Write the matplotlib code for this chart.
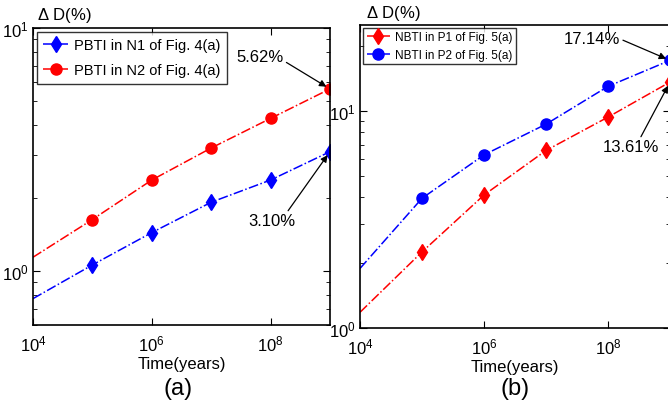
import numpy as np
import matplotlib
matplotlib.use("Agg")
import matplotlib.pyplot as plt
from matplotlib.ticker import LogLocator, NullFormatter

plt.rcParams['font.family'] = ['Liberation Sans', 'DejaVu Sans']
plt.rcParams['mathtext.fontset'] = 'custom'
plt.rcParams['mathtext.rm'] = 'Liberation Sans'

# data (first entry at 1e4 is the extrapolated line start, no marker)
time_years = [1e4, 1e5, 1e6, 1e7, 1e8, 1e9]

pbti_n1 = [0.77, 1.06, 1.44, 1.92, 2.37, 3.10]
pbti_n2 = [1.14, 1.63, 2.37, 3.21, 4.25, 5.62]

nbti_p1 = [1.18, 2.24, 4.10, 6.58, 9.38, 13.61]
nbti_p2 = [1.88, 3.96, 6.28, 8.70, 13.0, 17.14]

labels_a = ["PBTI in N1 of Fig. 4(a)", "PBTI in N2 of Fig. 4(a)"]
labels_b = ["NBTI in P1 of Fig. 5(a)", "NBTI in P2 of Fig. 5(a)"]

fig = plt.figure(figsize=(6.68, 4.10), dpi=100)
ax1 = fig.add_axes([0.0494, 0.205, 0.4446, 0.724])
ax2 = fig.add_axes([0.539, 0.198, 0.464, 0.739])


def style_axes(ax, ylim):
    ax.set_xscale("log")
    ax.set_yscale("log")
    ax.set_xlim(1e4, 1e9)
    ax.set_ylim(*ylim)
    ax.xaxis.set_major_locator(LogLocator(base=100))
    ax.xaxis.set_minor_locator(LogLocator(base=10, subs=[1.0], numticks=20))
    ax.xaxis.set_minor_formatter(NullFormatter())
    ax.tick_params(which="both", direction="in", top=True, right=True)
    ax.tick_params(which="major", length=5, labelsize=12)
    ax.tick_params(axis="x", which="major", pad=6)
    ax.tick_params(axis="y", which="major", pad=3)
    ax.tick_params(axis="x", which="minor", length=0)
    ax.tick_params(axis="y", which="minor", length=3)
    for s in ax.spines.values():
        s.set_linewidth(1.2)


def add_note(ax, text, xy, pix, relpos):
    ax.annotate(text, xy=xy, xytext=pix, textcoords="figure pixels",
                fontsize=12, ha="center", va="center",
                arrowprops=dict(arrowstyle="-|>", color="black", lw=0.9,
                                shrinkA=0, shrinkB=3, relpos=relpos,
                                mutation_scale=10))


# panel (a)
style_axes(ax1, (0.6, 10))
ax1.plot(time_years, pbti_n1, "b-.", lw=1.1, marker="d", ms=8, markevery=[1, 2, 3, 4, 5],
         label=labels_a[0])
ax1.plot(time_years, pbti_n2, "r-.", lw=1.1, marker="o", ms=8, markevery=[1, 2, 3, 4, 5],
         label=labels_a[1])
leg = ax1.legend(loc="upper left", fontsize=10.5, fancybox=False, edgecolor="black",
                 borderaxespad=0.25, handlelength=1.7, handletextpad=0.4,
                 borderpad=0.45, labelspacing=0.75)
leg.get_frame().set_linewidth(1.0)
add_note(ax1, "5.62%", (time_years[-1], pbti_n2[-1]), (260, 352), (1.0, 0.25))
add_note(ax1, "3.10%", (time_years[-1], pbti_n1[-1]), (272, 188), (0.8, 1.0))
ax1.text(0.015, 1.047, r"$\Delta$ D(%)", transform=ax1.transAxes, fontsize=12,
         ha="left", va="center")
ax1.set_xlabel("Time(years)", fontsize=12, labelpad=2)
fig.text(0.266, 0.05, "(a)", fontsize=17, ha="center", va="center")

# panel (b)
style_axes(ax2, (1.0, 25))
ax2.plot(time_years, nbti_p1, "r-.", lw=1.1, marker="d", ms=8, markevery=[1, 2, 3, 4, 5],
         label=labels_b[0])
ax2.plot(time_years, nbti_p2, "b-.", lw=1.1, marker="o", ms=8, markevery=[1, 2, 3, 4, 5],
         label=labels_b[1])
leg = ax2.legend(loc="upper left", fontsize=8.5, fancybox=False, edgecolor="black",
                 borderaxespad=0.25, handlelength=2.0, handletextpad=0.4,
                 borderpad=0.3, labelspacing=0.45)
leg.get_frame().set_linewidth(1.0)
add_note(ax2, "17.14%", (time_years[-1], nbti_p2[-1]), (592, 370), (1.0, 0.5))
add_note(ax2, "13.61%", (time_years[-1], nbti_p1[-1]), (631, 262), (0.65, 1.0))
ax2.text(0.02, 1.04, r"$\Delta$ D(%)", transform=ax2.transAxes, fontsize=12,
         ha="left", va="center")
ax2.set_xlabel("Time(years)", fontsize=12, labelpad=2)
fig.text(0.771, 0.05, "(b)", fontsize=17, ha="center", va="center")

fig.savefig("out.png", dpi=100)
